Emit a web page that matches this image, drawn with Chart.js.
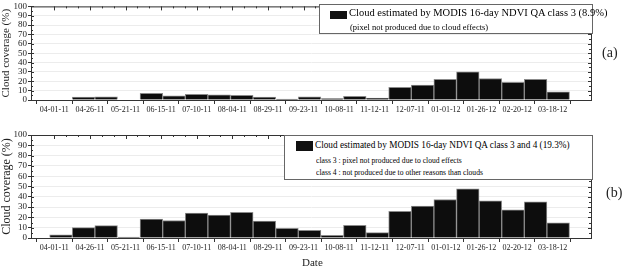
<!DOCTYPE html>
<html>
<head>
<meta charset="utf-8">
<script src="https://cdn.jsdelivr.net/npm/chart.js@4/dist/chart.umd.min.js"></script>
<style>
  html, body { margin: 0; padding: 0; background: #fff; overflow: hidden; width: 625px; height: 267px; }
  .panel { position: absolute; left: 0; width: 625px; }
  .legend { position: absolute; background: #fff; border: 1px solid #666; font-family: "Liberation Serif", serif; color: #000; }
  .legend .sw { position: absolute; background: #111; }
  .legend div { position: absolute; white-space: nowrap; transform-origin: 0 0; }
  .tag { position: absolute; font-family: "Liberation Serif", serif; font-size: 14px; color: #222; }
</style>
</head>
<body>

<div class="panel" style="top:0; height:122px;"><canvas id="chartA"></canvas></div>
<div class="panel" style="top:122px; height:145px;"><canvas id="chartB"></canvas></div>

<div class="legend" style="left:319px; top:4px; width:272px; height:28px;">
  <span class="sw" style="left:10px; top:6px; width:17px; height:8px;"></span>
  <div style="left:29px; top:2px; font-size:10.5px;">Cloud estimated by MODIS 16-day NDVI QA class 3 (8.9%)</div>
  <div style="left:30px; top:17px; font-size:8.5px;">(pixel not produced due to cloud effects)</div>
</div>

<div class="legend" style="left:284px; top:135px; width:307px; height:43px;">
  <span class="sw" style="left:11px; top:5px; width:17px; height:10px;"></span>
  <div style="left:30px; top:3px; font-size:10.5px; transform: scaleX(0.88);">Cloud estimated by MODIS 16-day NDVI QA class 3 and 4 (19.3%)</div>
  <div style="left:31px; top:19px; font-size:8.5px; transform: scaleX(0.9);">class 3 : pixel not produced due to cloud effects</div>
  <div style="left:31px; top:31px; font-size:8.5px; transform: scaleX(0.9);">class 4 : not produced due to other reasons than clouds</div>
</div>

<div class="tag" style="left:602px; top:45px;">(a)</div>
<div class="tag" style="left:606px; top:185px;">(b)</div>
<div class="tag" style="left:302px; top:256px; font-size:11px;">Date</div>

<script>
// tick labels on the date axis (as printed in the figure)
const dateLabels = ['04-01-11', '04-26-11', '05-21-11', '06-15-11', '07-10-11', '08-04-11', '08-29-11',
  '09-23-11', '10-08-11', '11-12-11', '12-07-11', '01-01-12', '01-26-12', '02-20-12', '03-18-12'];

// cloud coverage (%) per 16-day composite, class 3 only
const coverClass3 = [0, 3, 3.5, 0, 7, 4.5, 6, 5.5, 5, 3, 1, 3.5, 1.5, 4, 2, 13.5, 16, 22, 30, 23, 19, 22, 8.7];

// cloud coverage (%) per 16-day composite, class 3 and 4
const coverClass34 = [3, 10, 12, 1, 18.4, 17, 24.2, 22.3, 25, 16.5, 9.4, 7.4, 2.6, 12.3, 5.2, 26, 31, 37.4, 47.7, 36, 27.4, 35.2, 14.8];

const COMPOSITE = 16;     // days per bar
const TICK_START = 3.3;   // day of first date label
const TICK_STEP = 25.2;   // days between date labels

const frame = {
  id: 'frame',
  afterDatasetsDraw(chart) {
    const { ctx, chartArea: a, scales } = chart;
    ctx.save();
    ctx.strokeStyle = '#333';
    ctx.lineWidth = 1;
    ctx.strokeRect(a.left + 0.5, a.top + 0.5, a.right - a.left, a.bottom - a.top);
    ctx.beginPath();
    // top ticks
    dateLabels.forEach((l, k) => {
      const x = Math.round(scales.x.getPixelForValue(TICK_START + k * TICK_STEP)) + 0.5;
      ctx.moveTo(x, a.top); ctx.lineTo(x, a.top + 4);
      for (let m = 1; m < 3 && k < dateLabels.length - 1; m++) {
        const xm = Math.round(scales.x.getPixelForValue(TICK_START + (k + m / 3) * TICK_STEP)) + 0.5;
        ctx.moveTo(xm, a.top); ctx.lineTo(xm, a.top + 2);
      }
    });
    // right + left inner ticks
    for (let v = 0; v <= 100; v += 5) {
      const y = Math.round(scales.y.getPixelForValue(v)) + 0.5;
      const len = v % 10 === 0 ? 3 : 2;
      ctx.moveTo(a.right, y); ctx.lineTo(a.right - len, y);
      ctx.moveTo(a.left, y); ctx.lineTo(a.left + len, y);
    }
    ctx.stroke();
    ctx.restore();
  }
};

function makeChart(id, values, opts) {
  const ctx = document.getElementById(id).getContext('2d');
  return new Chart(ctx, {
    type: 'bar',
    data: {
      datasets: [{
        data: values.map((v, i) => ({ x: i * COMPOSITE + COMPOSITE / 2, y: v })),
        backgroundColor: '#0d0d0d',
        borderColor: '#8a8a8a',
        borderWidth: 1,
        barPercentage: 1,
        categoryPercentage: 1
      }]
    },
    options: {
      responsive: true,
      maintainAspectRatio: false,
      animation: false,
      layout: { padding: { left: 0, right: 34, top: opts.top, bottom: 0 } },
      plugins: { legend: { display: false }, tooltip: { enabled: false } },
      scales: {
        x: {
          type: 'linear',
          min: 0,
          max: 370,
          afterBuildTicks: (scale) => {
            scale.ticks = dateLabels.map((l, k) => ({ value: TICK_START + k * TICK_STEP }));
          },
          afterFit: (scale) => { scale.height = opts.xHeight; },
          ticks: {
            autoSkip: false,
            maxRotation: 0,
            padding: 1,
            color: '#222',
            font: { family: 'Liberation Serif', size: 8 },
            callback: (v, i) => dateLabels[i]
          },
          grid: { drawOnChartArea: false, tickLength: 4, color: '#333' },
          border: { color: '#333' }
        },
        y: {
          min: 0,
          max: 100,
          afterFit: (scale) => { scale.width = 31; },
          ticks: {
            stepSize: 10,
            autoSkip: false,
            padding: 1,
            color: '#222',
            font: { family: 'Liberation Serif', size: 9 }
          },
          grid: { color: '#ececec', tickLength: 3, tickColor: '#333' },
          border: { color: '#333' },
          title: {
            display: true,
            text: 'Cloud coverage (%)',
            color: '#222',
            padding: 0,
            font: { family: 'Liberation Serif', size: opts.titleSize }
          }
        }
      }
    },
    plugins: [frame]
  });
}

makeChart('chartA', coverClass3, { top: 4, xHeight: 22, titleSize: 11 });
makeChart('chartB', coverClass34, { top: 13, xHeight: 29, titleSize: 12 });
</script>
</body>
</html>
